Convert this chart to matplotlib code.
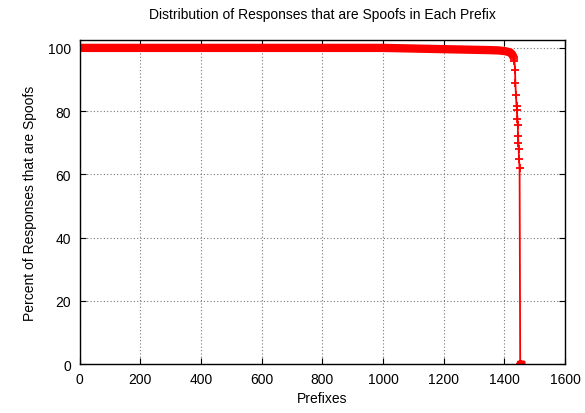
import numpy as np
import matplotlib.pyplot as plt

plt.rcParams['font.family'] = ['Liberation Sans', 'DejaVu Sans']

# values (prefix index, percent spoofed)
prefix = [0, 100, 200, 300, 400, 500, 600, 700, 800, 900, 1000, 1050,
          1100, 1150, 1200, 1250, 1300, 1350, 1380, 1400, 1410, 1420,
          1425, 1428, 1430, 1432, 1433, 1435, 1436, 1438, 1440, 1441,
          1443, 1444, 1445, 1446, 1447, 1448, 1450, 1452, 1453, 1454, 1455]
pct = [100, 100, 100, 100, 100, 100, 100, 100, 100, 100, 100, 99.9,
       99.8, 99.7, 99.6, 99.5, 99.4, 99.3, 99.2, 99.0, 98.8, 98.5,
       98.0, 97.5, 97.0, 96.5, 96.0, 93.0, 89.0, 85.0, 81.5, 80.5,
       77.5, 75.5, 72.0, 70.0, 68.0, 65.0, 62.0, 0, 0, 0, 0]

fig = plt.figure(figsize=(5.85, 4.14), dpi=100)
ax = fig.add_axes([0.136, 0.118, 0.830, 0.783])

# dense flat part looks like a thick band in the original
flat = 24
ax.plot(prefix[:flat + 1], pct[:flat + 1], color='red', lw=6,
        solid_capstyle='butt')
ax.plot(prefix[flat:], pct[flat:], color='red', lw=1.3, marker='+',
        ms=6, mew=1.3)
ax.plot(prefix[-4:], pct[-4:], color='red', lw=0, marker='s', ms=4)

ax.set_xlim(0, 1600)
ax.set_ylim(0, 102.5)
ax.set_xticks(np.arange(0, 1601, 200))
ax.set_yticks(np.arange(0, 101, 20))
ax.set_axisbelow(True)
ax.grid(True, color='#777777', linestyle=(0, (1, 2)), lw=0.8)
ax.tick_params(direction='in', top=True, right=True, length=4,
               labelsize=10, pad=6)
for s in ax.spines.values():
    s.set_linewidth(1.0)

ax.set_title('Distribution of Responses that are Spoofs in Each Prefix',
             fontsize=10, pad=16)
ax.set_xlabel('Prefixes', fontsize=10, labelpad=3)
ax.set_ylabel('Percent of Responses that are Spoofs', fontsize=10,
              labelpad=8)

fig.savefig('out.png', dpi=100)
